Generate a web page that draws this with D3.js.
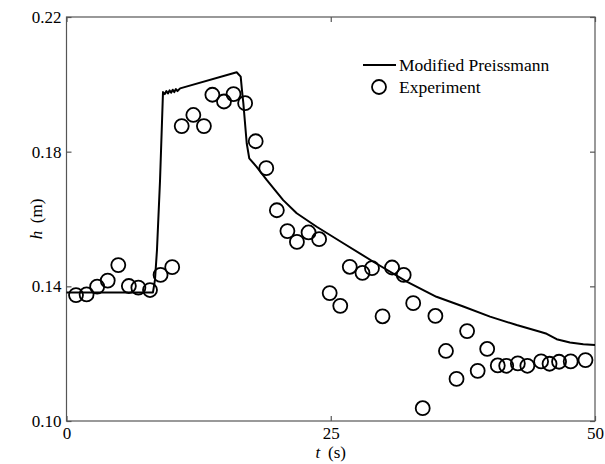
<!DOCTYPE html>
<html>
<head>
<meta charset="utf-8">
<script src="https://cdnjs.cloudflare.com/ajax/libs/d3/7.8.5/d3.min.js"></script>
<style>
  body { margin: 0; background: #fff; }
  svg text { font-family: "Liberation Serif", "DejaVu Serif", serif; fill: #000; }
</style>
</head>
<body>
<div id="chart"></div>
<script>
// model curve (Modified Preissmann)
const modelT = [0, 8.18, 8.37, 8.56, 8.85, 9.13, 9.3, 9.45, 9.6, 9.75, 9.9, 10.05, 10.2, 10.35, 10.5, 10.75,
  16.1, 16.48, 16.6, 16.73, 17.05, 17.29, 17.99, 18.94, 20.5, 21.78, 23.67, 26.19, 29.03, 32.19,
  35.0, 37.54, 40.07, 42.59, 44.8, 45.43, 46.37, 47.63, 48.89, 50];
const modelH = [0.1382, 0.1382, 0.1419, 0.1508, 0.1716, 0.1977, 0.1971, 0.1980, 0.1973, 0.1982, 0.1975, 0.1984, 0.1977, 0.1986, 0.1980, 0.1988,
  0.2036, 0.2023, 0.1983, 0.1944, 0.1825, 0.1780, 0.1755, 0.1716, 0.1656, 0.1617, 0.1577, 0.1528, 0.1473, 0.1414,
  0.1369, 0.1340, 0.1310, 0.1285, 0.1265, 0.1259, 0.1243, 0.1233, 0.1228, 0.1226];

// experiment
const expT = [0.9, 1.9, 2.9, 3.9, 4.9, 5.9, 6.8, 7.9, 8.9, 10.0, 10.9, 12.0, 13.0, 13.8, 14.9, 15.8, 16.9,
  17.9, 18.9, 19.9, 20.9, 21.8, 22.9, 23.9, 24.9, 25.9, 26.8, 28.0, 28.9, 29.9, 30.8, 31.9, 32.8, 33.7,
  34.9, 35.9, 36.9, 37.9, 38.9, 39.8, 40.8, 41.6, 42.7, 43.6, 44.9, 45.7, 46.6, 47.7, 49.1];
const expH = [0.1374, 0.1376, 0.1399, 0.1417, 0.1463, 0.1401, 0.1396, 0.1389, 0.1434, 0.1457, 0.1876, 0.1909, 0.1876, 0.1969, 0.1949, 0.1971, 0.1944,
  0.1831, 0.1751, 0.1626, 0.1564, 0.1532, 0.1560, 0.1540, 0.1380, 0.1342, 0.1458, 0.1440, 0.1454, 0.1311, 0.1456, 0.1434, 0.1350, 0.1038,
  0.1312, 0.1208, 0.1125, 0.1267, 0.1149, 0.1214, 0.1165, 0.1164, 0.1171, 0.1164, 0.1177, 0.1170, 0.1176, 0.1177, 0.1181];

const xTicks = [0, 25, 50];
const yTicks = [0.10, 0.14, 0.18, 0.22];

const W = 605, H = 464;
const margin = { top: 17, right: 10, bottom: 43, left: 66.5 };
const width = W - margin.left - margin.right;
const height = H - margin.top - margin.bottom;

const svg = d3.select('#chart').append('svg')
  .attr('width', W)
  .attr('height', H);

const g = svg.append('g')
  .attr('transform', 'translate(' + margin.left + ',' + margin.top + ')');

const x = d3.scaleLinear().domain([0, 50]).range([0, width]);
const y = d3.scaleLinear().domain([0.10, 0.22]).range([height, 0]);

const axisColor = '#555';

// frame
g.append('rect')
  .attr('width', width)
  .attr('height', height)
  .attr('fill', 'none')
  .attr('stroke', axisColor)
  .attr('stroke-width', 1.2);

function styleAxis(sel, showLabels) {
  sel.select('.domain').remove();
  sel.selectAll('.tick line').attr('stroke', axisColor).attr('stroke-width', 1.2);
  sel.selectAll('.tick text').style('font-size', '17px');
  if (!showLabels) sel.selectAll('.tick text').remove();
}

g.append('g')
  .attr('transform', 'translate(0,' + height + ')')
  .call(d3.axisBottom(x).tickValues(xTicks).tickSize(-5).tickPadding(6).tickFormat(d3.format('d')))
  .call(s => styleAxis(s, true));

g.append('g')
  .call(d3.axisTop(x).tickValues(xTicks).tickSize(-5))
  .call(s => styleAxis(s, false));

g.append('g')
  .call(d3.axisLeft(y).tickValues(yTicks).tickSize(-5).tickPadding(5).tickFormat(d3.format('.2f')))
  .call(s => styleAxis(s, true));

g.append('g')
  .attr('transform', 'translate(' + width + ',0)')
  .call(d3.axisRight(y).tickValues(yTicks).tickSize(-5))
  .call(s => styleAxis(s, false));

// axis titles
const xt = svg.append('text')
  .attr('x', margin.left + width / 2)
  .attr('y', 458)
  .attr('text-anchor', 'middle')
  .style('font-size', '17px');
xt.append('tspan').style('font-style', 'italic').text('t');
xt.append('tspan').text('\u2009 (s)');

const yt = svg.append('text')
  .attr('transform', 'translate(42,' + (margin.top + height / 2) + ') rotate(-90)')
  .attr('text-anchor', 'middle')
  .style('font-size', '17px');
yt.append('tspan').style('font-style', 'italic').text('h');
yt.append('tspan').text('\u2009 (m)');

// model line
const line = d3.line()
  .x((d, i) => x(modelT[i]))
  .y(d => y(d));

g.append('path')
  .datum(modelH)
  .attr('fill', 'none')
  .attr('stroke', '#000')
  .attr('stroke-width', 2)
  .attr('stroke-linejoin', 'round')
  .attr('d', line);

// experiment circles
g.selectAll('.exp')
  .data(expH)
  .enter()
  .append('circle')
  .attr('class', 'exp')
  .attr('cx', (d, i) => x(expT[i]))
  .attr('cy', d => y(d))
  .attr('r', 7)
  .attr('fill', 'none')
  .attr('stroke', '#000')
  .attr('stroke-width', 1.8);

// legend
const legend = svg.append('g');
legend.append('line')
  .attr('x1', 363).attr('x2', 396)
  .attr('y1', 65).attr('y2', 65)
  .attr('stroke', '#000')
  .attr('stroke-width', 2);
legend.append('text')
  .attr('x', 399).attr('y', 71)
  .style('font-size', '17.5px')
  .text('Modified Preissmann');
legend.append('circle')
  .attr('cx', 379).attr('cy', 87)
  .attr('r', 7)
  .attr('fill', 'none')
  .attr('stroke', '#000')
  .attr('stroke-width', 1.8);
legend.append('text')
  .attr('x', 399).attr('y', 93)
  .style('font-size', '17.5px')
  .text('Experiment');
</script>
</body>
</html>
